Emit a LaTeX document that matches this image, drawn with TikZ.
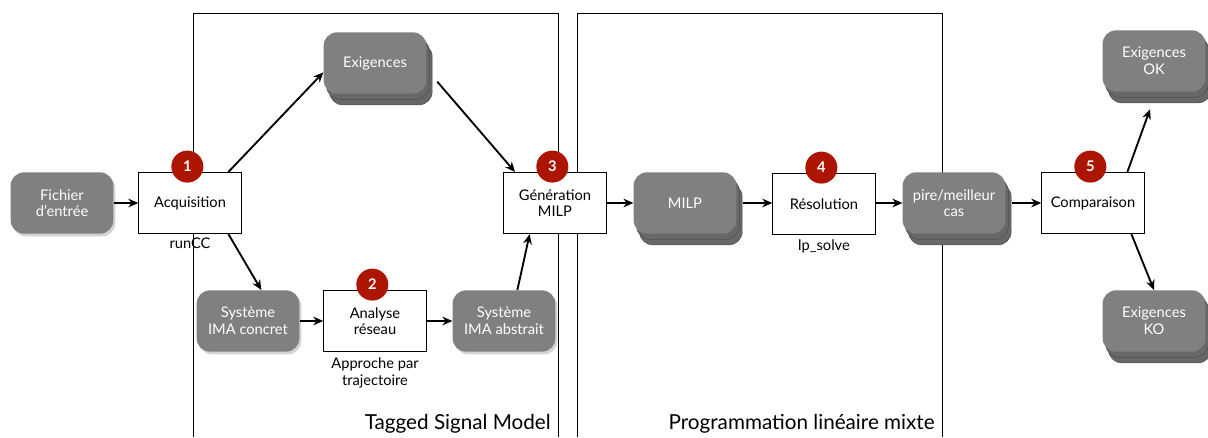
\documentclass[tikz,border=0pt]{standalone}
\usepackage{fontspec}
\setmainfont{Lato}
\usepackage{tikz}
\usetikzlibrary{arrows.meta,positioning,shadows,calc}
\definecolor{boxgray}{RGB}{128,128,128}
\definecolor{stackgray}{RGB}{104,104,104}
\definecolor{badgered}{RGB}{172,22,0}

\begin{document}
\begin{tikzpicture}[x=0.75pt, y=-0.75pt, font=\fontsize{11}{12.5}\selectfont,
  procbox/.style={draw, line width=0.6pt, fill=white, minimum width=77pt,
    minimum height=46pt, align=center, inner sep=1pt},
  data/.style={rounded corners=10pt, fill=boxgray, text=white, minimum width=77pt,
    minimum height=46pt, align=center, inner sep=1pt,
    drop shadow={shadow xshift=1.5pt, shadow yshift=-2pt, opacity=0.35}},
  datastack/.style={data, double copy shadow={shadow xshift=2.2pt,
    shadow yshift=-4.2pt, fill=stackgray, draw=boxgray!60!black, line width=0.4pt}},
  badge/.style={circle, fill=badgered, text=white, minimum size=24pt, inner sep=0pt,
    font=\fontsize{11}{12}\selectfont\bfseries},
  note/.style={align=center, inner sep=1pt},
  flow/.style={-{Stealth[length=7.5pt,width=6.5pt]}, line width=1.4pt},
  frame/.style={line width=0.6pt},
  framelabel/.style={font=\fontsize{15.5}{17}\selectfont, inner sep=0pt}]
  \useasboundingbox (0,0) rectangle (1208,437);
  % ---- the two frames (open at the bottom) ----
  \draw[frame] (193,437) -- (193,13) -- (558,13) -- (558,437);
  \draw[frame] (577,437) -- (577,13) -- (942,13) -- (942,437);
  \node[framelabel, anchor=base east] (tsm) at (551,429) {Tagged Signal Model};
  \node[framelabel, anchor=base east] (plm) at (935,429) {Programmation linéaire mixte};
  % ---- acquisition ----
  \node[data] (fichier) at (62,203) {Fichier\\d’entrée};
  \node[procbox] (acq) at (190,203) {Acquisition};
  \node[note, below=2pt of acq] (runcc) {runCC};
  \node[datastack] (exig) at (375,63) {Exigences};
  % ---- network analysis ----
  \node[data] (concret) at (248,321) {Système\\IMA concret};
  \node[procbox] (ana) at (375,321) {Analyse\\réseau};
  \node[note, below=3pt of ana] (traj) {Approche par\\trajectoire};
  \node[data] (abstrait) at (504,321) {Système\\IMA abstrait};
  % ---- MILP ----
  \node[procbox] (gen) at (555,203) {Génération\\MILP};
  \node[datastack] (milp) at (685,203) {MILP};
  \node[procbox] (res) at (824,204) {Résolution};
  \node[note, below=2pt of res] (lps) {lp\_solve};
  \node[datastack] (pire) at (954,203) {pire/meilleur\\cas};
  % ---- comparison ----
  \node[procbox] (cmp) at (1093,203) {Comparaison};
  \node[datastack] (ok) at (1154,61) {Exigences\\OK};
  \node[datastack] (ko) at (1154,321) {Exigences\\KO};
  % step numbers
  \foreach \blk/\num in {acq/1, ana/2, gen/3, res/4, cmp/5}
    \node[badge] (badge\num) at ([xshift=-2pt,yshift=4pt]\blk.north) {\num};
  % ---- arrows ----
  \draw[flow] (fichier) -- (acq);
  \draw[flow] ([xshift=-10pt]acq.north east) -- ([yshift=-7pt]exig.west);
  \draw[flow] ([xshift=-10pt]acq.south east) -- ([xshift=10pt]concret.north);
  \draw[flow] (concret) -- (ana);
  \draw[flow] (ana) -- (abstrait);
  \draw[flow] ([xshift=10pt]abstrait.north) -- ([xshift=-19pt]gen.south);
  \draw[flow] ([xshift=8pt,yshift=-14pt]exig.east) -- ([xshift=-30pt]gen.north);
  \draw[flow] (gen) -- (milp);
  \draw[flow] ([xshift=5pt]milp.east) -- (milp.east -| res.west);
  \draw[flow] (res.east |- pire.west) -- (pire.west);
  \draw[flow] ([xshift=5pt]pire.east) -- (cmp);
  \draw[flow] ([xshift=-13pt]cmp.north east) -- ([xshift=-3pt,yshift=-13pt]ok.south);
  \draw[flow] ([xshift=-10pt]cmp.south east) -- (ko.north);
\end{tikzpicture}
\end{document}
